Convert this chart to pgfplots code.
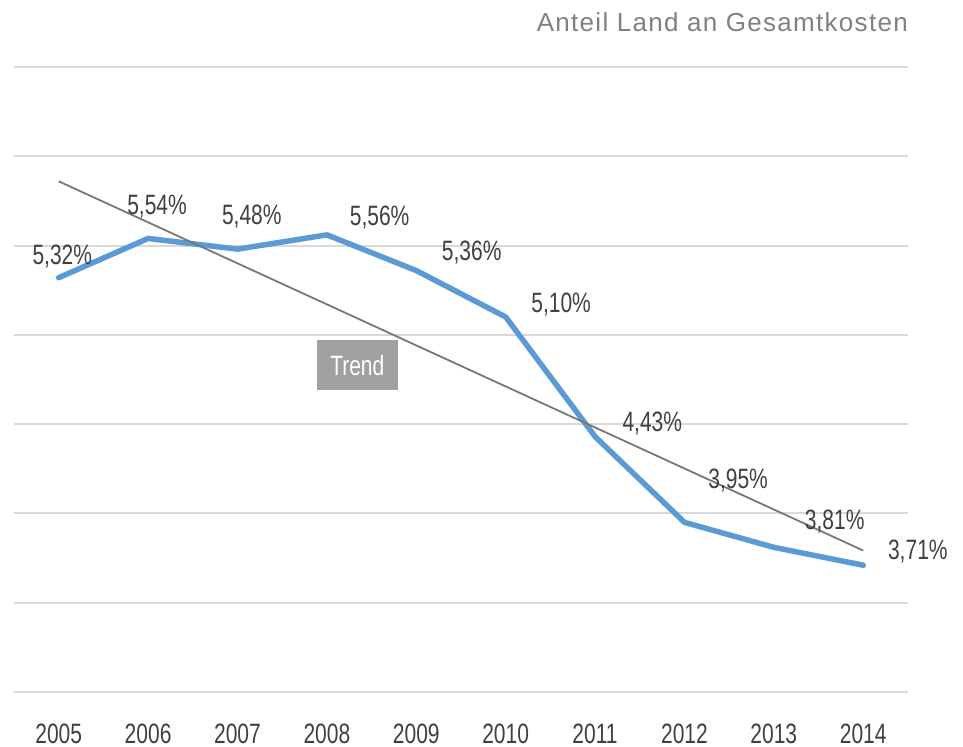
\documentclass[border=0pt]{standalone}
\usepackage{fontspec}
\setmainfont{Liberation Sans}
\newfontfamily\condfont[FakeStretch=0.75]{Liberation Sans}
\newfontfamily\titlefont[LetterSpace=5]{Liberation Sans}
\usepackage{pgfplots}
\pgfplotsset{compat=1.18}
\definecolor{lineblue}{RGB}{91,155,213}
\definecolor{trendgray}{RGB}{120,120,120}
\definecolor{gridgray}{RGB}{217,217,217}
\definecolor{labelgray}{RGB}{64,64,64}
\definecolor{titlegray}{RGB}{128,128,128}
\definecolor{boxgray}{RGB}{160,160,160}
\begin{document}
\begin{tikzpicture}
\path[use as bounding box] (0,0) rectangle (963bp,747bp);
\begin{axis}[
  at={(14bp,55bp)}, anchor=south west,
  scale only axis, width=894bp, height=625bp,
  xmin=2004.5, xmax=2014.5, ymin=3.0, ymax=6.5,
  axis line style={draw=none},
  xtick={2005,...,2014},
  xticklabels={2005,2006,2007,2008,2009,2010,2011,2012,2013,2014},
  ytick={3.0,3.5,...,6.5},
  yticklabels={},
  major tick length=0pt,
  ymajorgrids=true,
  grid style={draw=gridgray, line width=2bp},
  xticklabel style={font=\condfont\fontsize{28bp}{30bp}\selectfont, text=labelgray, anchor=base, yshift=-51bp},
  clip=false,
]
\addplot[color=lineblue, line width=5.5bp, line join=round, line cap=round, mark=none] coordinates {
  (2005,5.32) (2006,5.54) (2007,5.48) (2008,5.56) (2009,5.36)
  (2010,5.10) (2011,4.43) (2012,3.95) (2013,3.81) (2014,3.71)
};
\addplot[color=trendgray, line width=1.8bp, mark=none] coordinates {
  (2005,5.860) (2014,3.792)
};
\begin{scope}[every node/.style={font=\condfont\fontsize{28bp}{30bp}\selectfont, text=labelgray, inner sep=0pt}]
\node at (axis cs:2005.04,5.436) {5,32\%};
\node at (axis cs:2006.10,5.718) {5,54\%};
\node at (axis cs:2007.16,5.662) {5,48\%};
\node at (axis cs:2008.59,5.658) {5,56\%};
\node at (axis cs:2009.62,5.461) {5,36\%};
\node at (axis cs:2010.62,5.170) {5,10\%};
\node at (axis cs:2011.64,4.506) {4,43\%};
\node at (axis cs:2012.60,4.182) {3,95\%};
\node at (axis cs:2013.68,3.953) {3,81\%};
\node at (axis cs:2014.61,3.785) {3,71\%};
\end{scope}
\node[fill=boxgray, text=white, font=\condfont\fontsize{28bp}{30bp}\selectfont, minimum width=81bp, minimum height=50bp, inner sep=0pt] at (axis cs:2008.34,4.83) {Trend};
\end{axis}
\node[anchor=east, text=titlegray, font=\titlefont\fontsize{26bp}{30bp}\selectfont, inner sep=0pt] at (908bp,725bp) {Anteil Land an Gesamtkosten};
\end{tikzpicture}
\end{document}
